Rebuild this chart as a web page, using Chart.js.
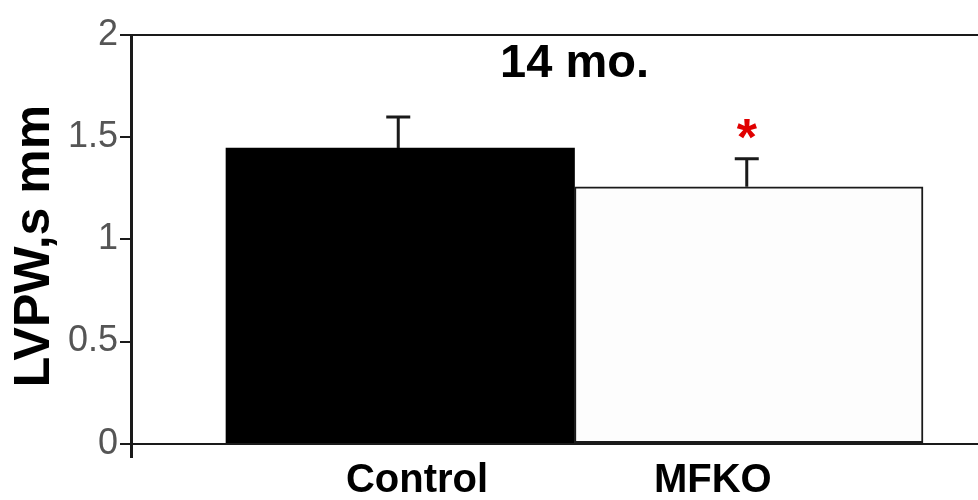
<!DOCTYPE html>
<html>
<head>
<meta charset="utf-8">
<title>LVPW,s mm - 14 mo.</title>
<script src="https://cdn.jsdelivr.net/npm/chart.js@4.4.1/dist/chart.umd.min.js"></script>
<style>
  html, body { margin: 0; padding: 0; background: #fff; }
  #lvpwChart { display: block; }
</style>
</head>
<body>
<canvas id="lvpwChart" width="978" height="500"></canvas>
<script>
// values
const categories = ["Control", "MFKO"];
const means = [1.447, 1.257];
const sems = [0.152, 0.137];
const significance = ["", "*"];
const yTicks = [0, 0.5, 1, 1.5, 2];
const chartTitle = "14 mo.";
const yTitle = "LVPW,s mm";

const fontFamily = "'Liberation Sans', Arial, sans-serif";
const lineColor = "#1a1a1a";
const xRange = { min: -0.7726, max: 1.6578 };
// the original category labels are not centred under their bars
const labelNudge = [0.048, -0.103];

// upward-only error bars plus the significance star, drawn from the scales
const errorBars = {
    id: "errorBars",
    afterDatasetsDraw(chart) {
        const { ctx } = chart;
        const yScale = chart.scales.y;
        const meta = chart.getDatasetMeta(0);
        ctx.save();
        meta.data.forEach((bar, i) => {
            const top = yScale.getPixelForValue(means[i] + sems[i]);
            const base = yScale.getPixelForValue(means[i]);
            ctx.strokeStyle = lineColor;
            ctx.lineWidth = 3;
            ctx.beginPath();
            ctx.moveTo(bar.x - 2, base);
            ctx.lineTo(bar.x - 2, top);
            ctx.moveTo(bar.x - 14, top);
            ctx.lineTo(bar.x + 10, top);
            ctx.stroke();

            if (significance[i]) {
                ctx.font = `bold 52px ${fontFamily}`;
                ctx.fillStyle = "#e00000";
                ctx.textAlign = "center";
                ctx.textBaseline = "alphabetic";
                const m = ctx.measureText(significance[i]);
                const centerY = top - 30;
                const baseline = centerY + (m.actualBoundingBoxAscent - m.actualBoundingBoxDescent) / 2;
                ctx.fillText(significance[i], bar.x - 2, baseline);
            }
        });
        ctx.restore();
    }
};

// title sits inside the plot, centred over the two bars
const innerTitle = {
    id: "innerTitle",
    afterDatasetsDraw(chart) {
        const { ctx, chartArea } = chart;
        const x = chart.scales.x.getPixelForValue((categories.length - 1) / 2);
        ctx.save();
        ctx.font = `bold 47px ${fontFamily}`;
        ctx.fillStyle = "#000";
        ctx.textAlign = "center";
        ctx.textBaseline = "middle";
        ctx.fillText(chartTitle, x, chartArea.top + 29);
        ctx.restore();
    }
};

const barData = means.map((v, i) => ({ x: i, y: v }));

new Chart(document.getElementById("lvpwChart"), {
    type: "bar",
    data: {
        datasets: [
            {
                data: barData,
                backgroundColor: ["#000000", "#fdfdfd"],
                borderColor: ["#000000", lineColor],
                borderWidth: [0, 2],
                borderSkipped: false,
                barPercentage: 1,
                categoryPercentage: 1
            }
        ]
    },
    options: {
        responsive: false,
        animation: false,
        layout: { padding: { top: 35, right: 0, bottom: 0, left: 0 } },
        plugins: {
            legend: { display: false },
            tooltip: { enabled: false },
            title: { display: false }
        },
        scales: {
            // positions the bars; its own labels are hidden
            x: {
                type: "linear",
                display: false,
                offset: false,
                min: xRange.min,
                max: xRange.max,
                afterBuildTicks: (scale) => {
                    scale.ticks = categories.map((_, i) => ({ value: i }));
                }
            },
            // carries the category names
            xLabels: {
                type: "linear",
                position: "bottom",
                offset: false,
                min: xRange.min,
                max: xRange.max,
                afterBuildTicks: (scale) => {
                    scale.ticks = categories.map((_, i) => ({ value: i + labelNudge[i] }));
                },
                afterFit: (scale) => {
                    scale.height = 43;
                    scale.paddingLeft = 0;
                    scale.paddingRight = 0;
                },
                grid: { display: false, drawTicks: false },
                border: { display: false },
                ticks: {
                    callback: (v, i) => categories[i] ?? "",
                    autoSkip: false,
                    maxRotation: 0,
                    padding: 0,
                    color: "#000",
                    font: { family: fontFamily, size: 40, weight: "bold" }
                }
            },
            y: {
                min: -0.065,
                max: 2,
                afterBuildTicks: (scale) => {
                    scale.ticks = yTicks.map((v) => ({ value: v }));
                },
                afterFit: (scale) => {
                    scale.width = 131;
                    scale.paddingTop = 0;
                    scale.paddingBottom = 0;
                },
                border: { display: true, color: lineColor, width: 3 },
                grid: {
                    drawOnChartArea: true,
                    color: (ctx) => (ctx.tick && (ctx.tick.value === 2 || ctx.tick.value === 0) ? lineColor : "rgba(0,0,0,0)"),
                    lineWidth: 2,
                    tickLength: 11,
                    tickColor: lineColor,
                    tickWidth: 2
                },
                ticks: {
                    callback: (v) => String(v),
                    padding: 2,
                    color: "#555",
                    font: { family: fontFamily, size: 36, weight: "normal" }
                },
                title: {
                    display: true,
                    text: yTitle,
                    color: "#000",
                    padding: { top: 5, bottom: 0 },
                    font: { family: fontFamily, size: 50, weight: "bold" }
                }
            }
        }
    },
    plugins: [errorBars, innerTitle]
});
</script>
</body>
</html>
